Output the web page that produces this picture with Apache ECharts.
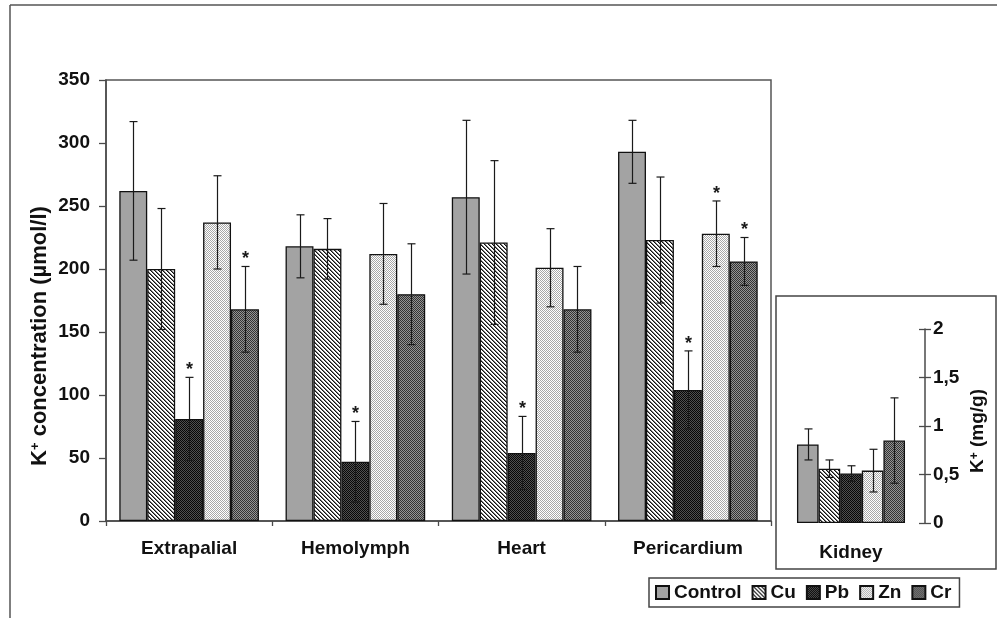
<!DOCTYPE html>
<html>
<head>
<meta charset="utf-8">
<script src="https://cdn.jsdelivr.net/npm/echarts@6/dist/echarts.min.js"></script>
<style>
html,body{margin:0;padding:0;background:#fff;}
#chart{width:997px;height:618px;}
</style>
</head>
<body>
<div id="chart"></div>
<script>
// ---------- data ----------
const categories = ['Extrapalial', 'Hemolymph', 'Heart', 'Pericardium'];
const seriesNames = ['Control', 'Cu', 'Pb', 'Zn', 'Cr'];

const controlValues = [262, 218, 257, 293];
const controlErrors = [55, 25, 61, 25];
const cuValues = [200, 216, 221, 223];
const cuErrors = [48, 24, 65, 50];
const pbValues = [81, 47, 54, 104];
const pbErrors = [33, 32, 29, 31];
const znValues = [237, 212, 201, 228];
const znErrors = [37, 40, 31, 26];
const crValues = [168, 180, 168, 206];
const crErrors = [34, 40, 34, 19];

// significance marks (*)
const controlSig = [0, 0, 0, 0];
const cuSig = [0, 0, 0, 0];
const pbSig = [1, 1, 1, 1];
const znSig = [0, 0, 0, 1];
const crSig = [1, 0, 0, 1];

const kidneyCategory = ['Kidney'];
const kidneyValues = [0.81, 0.56, 0.51, 0.54, 0.85];   // Control, Cu, Pb, Zn, Cr
const kidneyErrors = [0.16, 0.09, 0.08, 0.22, 0.44];

const mainAxisMin = 0, mainAxisMax = 350, mainAxisStep = 50;
const kidneyAxisMin = 0, kidneyAxisMax = 2, kidneyAxisStep = 0.5;

const mainYTitle = ['K', '+', ' concentration (\u00b5mol/l)'];
const kidneyYTitle = ['K', '+', ' (mg/g)'];

// ---------- styles ----------
const FONT = '"Liberation Sans", Arial, sans-serif';
function pattern(size, draw) {
  const c = document.createElement('canvas');
  c.width = size; c.height = size;
  const ctx = c.getContext('2d');
  draw(ctx);
  return { image: c, repeat: 'repeat' };
}
const fills = [
  '#a3a3a3',
  pattern(4, ctx => {
    ctx.fillStyle = '#ffffff'; ctx.fillRect(0, 0, 4, 4);
    for (let i = 0; i < 4; i++) {
      ctx.fillStyle = '#111111'; ctx.fillRect(i, i, 1, 1);
      ctx.fillStyle = '#7a7a7a'; ctx.fillRect((i + 1) % 4, i, 1, 1);
    }
  }),
  pattern(2, ctx => {
    ctx.fillStyle = '#080808'; ctx.fillRect(0, 0, 2, 2);
    ctx.fillStyle = '#505050'; ctx.fillRect(1, 0, 1, 1); ctx.fillRect(0, 1, 1, 1);
  }),
  pattern(2, ctx => {
    ctx.fillStyle = '#ffffff'; ctx.fillRect(0, 0, 2, 2);
    ctx.fillStyle = '#a8a8a8'; ctx.fillRect(0, 0, 1, 1); ctx.fillRect(1, 1, 1, 1);
  }),
  pattern(2, ctx => {
    ctx.fillStyle = '#333333'; ctx.fillRect(0, 0, 2, 2);
    ctx.fillStyle = '#949494'; ctx.fillRect(1, 0, 1, 1); ctx.fillRect(0, 1, 1, 1);
  })
];

const mainValues = [controlValues, cuValues, pbValues, znValues, crValues];
const mainErrors = [controlErrors, cuErrors, pbErrors, znErrors, crErrors];
const mainSig = [controlSig, cuSig, pbSig, znSig, crSig];

const MAIN_GAP = 0.16, KIDNEY_GAP = 0.27;

function errorSeries(idx, data, gap, xi, yi) {
  return {
    type: 'custom',
    xAxisIndex: xi, yAxisIndex: yi,
    z: 5,
    silent: true,
    data: data,
    encode: { x: 0, y: 1 },
    renderItem: function (params, api) {
      const ci = api.value(0), v = api.value(1), e = api.value(2), s = api.value(3);
      const c = api.coord([ci, v]);
      const band = api.size([1, 0])[0];
      const bw = band * (1 - gap) / seriesNames.length;
      const x = Math.round(c[0] + (idx - (seriesNames.length - 1) / 2) * bw) + 0.5;
      const top = api.coord([ci, v + e])[1];
      const bot = api.coord([ci, v - e])[1];
      const ls = { stroke: '#1a1a1a', lineWidth: 1.2 };
      const children = [
        { type: 'line', shape: { x1: x, y1: top, x2: x, y2: bot }, style: ls },
        { type: 'line', shape: { x1: x - 4, y1: top, x2: x + 4, y2: top }, style: ls },
        { type: 'line', shape: { x1: x - 4, y1: bot, x2: x + 4, y2: bot }, style: ls }
      ];
      if (s) {
        children.push({
          type: 'text', x: x, y: top - 7,
          style: { text: '*', fill: '#1a1a1a', font: 'bold 18px ' + FONT, align: 'center', verticalAlign: 'middle' }
        });
      }
      return { type: 'group', children: children };
    }
  };
}

const series = [];
seriesNames.forEach((name, s) => {
  series.push({
    type: 'bar', name: name, xAxisIndex: 0, yAxisIndex: 0,
    data: mainValues[s],
    barGap: '0%', barCategoryGap: (MAIN_GAP * 100) + '%',
    itemStyle: { color: fills[s], borderColor: '#111', borderWidth: 1.3 }
  });
});
seriesNames.forEach((name, s) => {
  series.push({
    type: 'bar', name: name, xAxisIndex: 1, yAxisIndex: 1,
    data: [kidneyValues[s]],
    barGap: '0%', barCategoryGap: (KIDNEY_GAP * 100) + '%',
    itemStyle: { color: fills[s], borderColor: '#111', borderWidth: 1.3 }
  });
});
seriesNames.forEach((name, s) => {
  series.push(errorSeries(s, mainValues[s].map((v, i) => [i, v, mainErrors[s][i], mainSig[s][i]]), MAIN_GAP, 0, 0));
  series.push(errorSeries(s, [[0, kidneyValues[s], kidneyErrors[s], 0]], KIDNEY_GAP, 1, 1));
});

const axisColor = '#4a4a4a';
const labelStyle = { fontSize: 19, fontWeight: 'bold', color: '#111', fontFamily: FONT };

const option = {
  animation: false,
  backgroundColor: '#fff',
  grid: [
    { left: 106, right: 226, top: 80, bottom: 97, show: true, borderColor: '#555', borderWidth: 1.5 },
    { left: 777, right: 72, top: 329, bottom: 95 }
  ],
  xAxis: [
    {
      type: 'category', gridIndex: 0, data: categories,
      axisLine: { lineStyle: { color: axisColor, width: 1.5 } },
      axisTick: { show: true, length: 5, lineStyle: { color: axisColor, width: 1.3 } },
      axisLabel: Object.assign({ margin: 18 }, labelStyle)
    },
    {
      type: 'category', gridIndex: 1, data: kidneyCategory,
      axisLine: { show: false }, axisTick: { show: false },
      axisLabel: Object.assign({ margin: 20 }, labelStyle)
    }
  ],
  yAxis: [
    {
      type: 'value', gridIndex: 0, min: mainAxisMin, max: mainAxisMax, interval: mainAxisStep,
      splitLine: { show: false },
      axisLine: { show: true, lineStyle: { color: axisColor, width: 1.5 } },
      axisTick: { show: true, length: 7, lineStyle: { color: axisColor, width: 1.3 } },
      axisLabel: Object.assign({ margin: 16 }, labelStyle)
    },
    {
      type: 'value', gridIndex: 1, position: 'right', min: kidneyAxisMin, max: kidneyAxisMax, interval: kidneyAxisStep,
      splitLine: { show: false },
      axisLine: { show: true, lineStyle: { color: axisColor, width: 1.5 } },
      axisTick: { show: true, length: 6, lineStyle: { color: axisColor, width: 1.3 } },
      axisLabel: Object.assign({ margin: 8, formatter: v => String(v).replace('.', ',') }, labelStyle)
    },
    {
      type: 'value', gridIndex: 1, position: 'right', min: kidneyAxisMin, max: kidneyAxisMax, interval: kidneyAxisStep,
      splitLine: { show: false },
      axisLine: { show: false },
      axisTick: { show: true, inside: true, length: 6, lineStyle: { color: axisColor, width: 1.3 } },
      axisLabel: { show: false }
    }
  ],
  legend: {
    data: seriesNames,
    left: 649, top: 578,
    orient: 'horizontal',
    icon: 'rect',
    itemWidth: 13, itemHeight: 13, itemGap: 10,
    padding: [5, 8, 5, 6],
    borderColor: '#444', borderWidth: 1.5,
    textStyle: { fontSize: 19, fontWeight: 'bold', color: '#111', fontFamily: FONT },
    selectedMode: false
  },
  graphic: [
    { type: 'line', shape: { x1: 10, y1: 5, x2: 997, y2: 5 }, style: { stroke: '#555', lineWidth: 1.5 } },
    { type: 'line', shape: { x1: 10, y1: 5, x2: 10, y2: 618 }, style: { stroke: '#555', lineWidth: 1.5 } },
    { type: 'rect', shape: { x: 776, y: 296, width: 220, height: 273 }, style: { fill: null, stroke: '#444', lineWidth: 1.5 } },
    {
      type: 'text', x: 40, y: 336, rotation: Math.PI / 2,
      style: {
        text: '{a|' + mainYTitle[0] + '}{b|' + mainYTitle[1] + '}{a|' + mainYTitle[2] + '}',
        align: 'center', verticalAlign: 'middle',
        rich: {
          a: { fontSize: 22, fontWeight: 'bold', fontFamily: FONT, fill: '#111', color: '#111' },
          b: { fontSize: 13, fontWeight: 'bold', fontFamily: FONT, fill: '#111', color: '#111', verticalAlign: 'top', padding: [0, 0, 8, 0] }
        }
      }
    },
    {
      type: 'text', x: 978, y: 431, rotation: Math.PI / 2,
      style: {
        text: '{a|' + kidneyYTitle[0] + '}{b|' + kidneyYTitle[1] + '}{a|' + kidneyYTitle[2] + '}',
        align: 'center', verticalAlign: 'middle',
        rich: {
          a: { fontSize: 19, fontWeight: 'bold', fontFamily: FONT, fill: '#111', color: '#111' },
          b: { fontSize: 12, fontWeight: 'bold', fontFamily: FONT, fill: '#111', color: '#111', verticalAlign: 'top', padding: [0, 0, 7, 0] }
        }
      }
    }
  ],
  series: series
};

const chart = echarts.init(document.getElementById('chart'), null, { renderer: 'canvas' });
chart.setOption(option);
</script>
</body>
</html>
